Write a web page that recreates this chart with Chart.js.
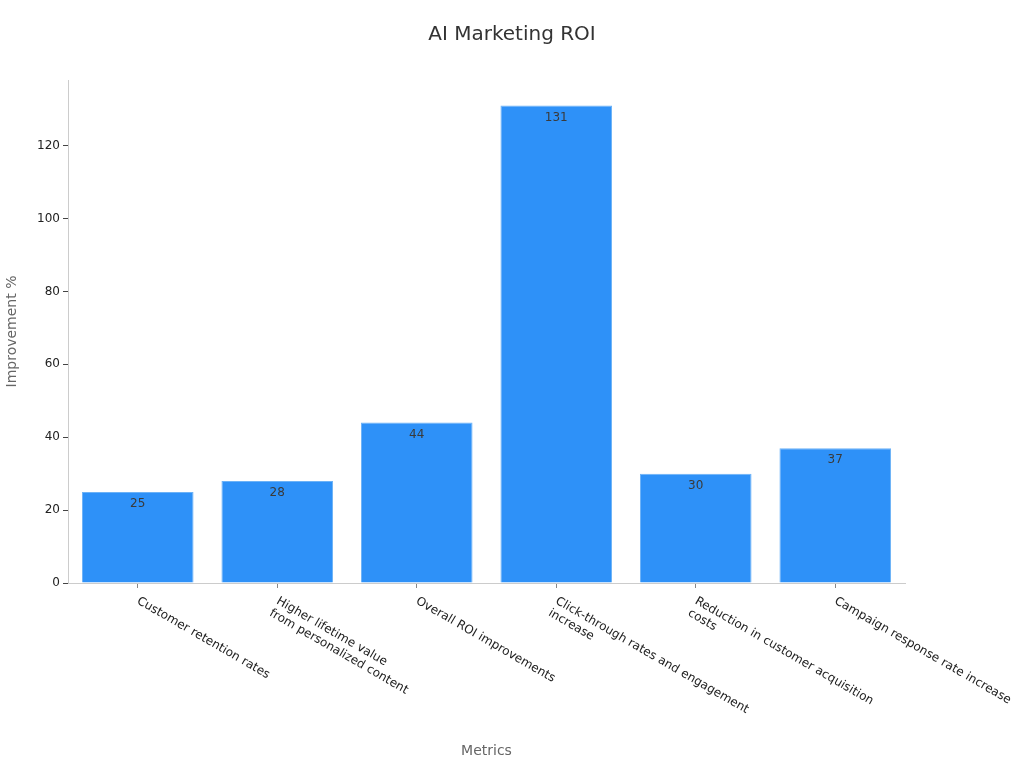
<!DOCTYPE html>
<html>
<head>
<meta charset="utf-8">
<script src="https://cdn.jsdelivr.net/npm/chart.js@4.4.0/dist/chart.umd.min.js"></script>
<style>
  html, body { margin: 0; padding: 0; background: #fff; }
  #wrap { width: 1024px; height: 768px; }
</style>
</head>
<body>
<div id="wrap"><canvas id="roiChart" width="1024" height="768"></canvas></div>
<script>
const categories = [
  'Customer retention rates',
  ['Higher lifetime value', 'from personalized content'],
  'Overall ROI improvements',
  ['Click-through rates and engagement', 'increase'],
  ['Reduction in customer acquisition', 'costs'],
  'Campaign response rate increase'
];
const improvement = [25, 28, 44, 131, 30, 37];
const yTicks = [0, 20, 40, 60, 80, 100, 120];

const FONT = "'DejaVu Sans', sans-serif";

// x labels are drawn turned clockwise, starting at the tick
const slantedLabels = {
  id: 'slantedLabels',
  afterDraw(chart) {
    const ctx = chart.ctx;
    const xScale = chart.scales.x;
    ctx.save();
    ctx.font = '12px ' + FONT;
    ctx.fillStyle = '#222';
    ctx.textAlign = 'left';
    ctx.textBaseline = 'top';
    categories.forEach((label, i) => {
      const lines = Array.isArray(label) ? label : [label];
      ctx.save();
      ctx.translate(xScale.getPixelForTick(i) + 3, xScale.top + 12);
      ctx.rotate(30 * Math.PI / 180);
      lines.forEach((line, j) => {
        ctx.fillText(line, 0, j * 14);
      });
      ctx.restore();
    });
    ctx.restore();
  }
};

const barValues = {
  id: 'barValues',
  afterDatasetsDraw(chart) {
    const ctx = chart.ctx;
    const meta = chart.getDatasetMeta(0);
    ctx.save();
    ctx.font = '12px ' + FONT;
    ctx.fillStyle = '#3a3a3a';
    ctx.textAlign = 'center';
    ctx.textBaseline = 'top';
    meta.data.forEach((bar, i) => {
      ctx.fillText(String(improvement[i]), bar.x, bar.y + 6);
    });
    ctx.restore();
  }
};

new Chart(document.getElementById('roiChart').getContext('2d'), {
  type: 'bar',
  data: {
    labels: categories,
    datasets: [{
      label: 'Improvement %',
      data: improvement,
      backgroundColor: '#2e91f8',
      borderColor: '#6cb2f7',
      borderWidth: 1,
      barPercentage: 1,
      categoryPercentage: 0.8
    }]
  },
  options: {
    responsive: false,
    animation: false,
    layout: { padding: 0 },
    plugins: {
      legend: { display: false },
      tooltip: { enabled: false },
      title: {
        display: true,
        text: 'AI Marketing ROI',
        color: '#333',
        font: { family: FONT, size: 20, weight: 'normal' },
        padding: { top: 23, bottom: 33 }
      }
    },
    scales: {
      x: {
        grid: { display: true, offset: false, drawOnChartArea: false, tickLength: 5, tickColor: '#888' },
        border: { color: '#ccc' },
        ticks: { callback: () => '', padding: 0 },
        title: {
          display: true,
          text: 'Metrics',
          color: '#666',
          font: { family: FONT, size: 14 },
          padding: { top: 0, bottom: 8 }
        },
        afterFit(scale) { scale.height = 185; }
      },
      y: {
        min: 0,
        max: 138,
        grid: { display: true, drawOnChartArea: false, tickLength: 5, tickColor: '#444' },
        border: { color: '#ccc' },
        ticks: { color: '#222', font: { family: FONT, size: 12 }, padding: 3 },
        afterBuildTicks(scale) {
          scale.ticks = yTicks.map(v => ({ value: v }));
        },
        title: {
          display: true,
          text: 'Improvement %',
          color: '#666',
          font: { family: FONT, size: 14 },
          padding: { top: 4, bottom: 0 }
        },
        afterFit(scale) { scale.width = 68; }
      },
      // empty right-hand space so the title stays centred on the page
      spacer: {
        type: 'linear',
        position: 'right',
        grid: { display: false },
        border: { display: false },
        ticks: { display: false },
        afterFit(scale) { scale.width = 119; }
      }
    }
  },
  plugins: [slantedLabels, barValues]
});
</script>
</body>
</html>
